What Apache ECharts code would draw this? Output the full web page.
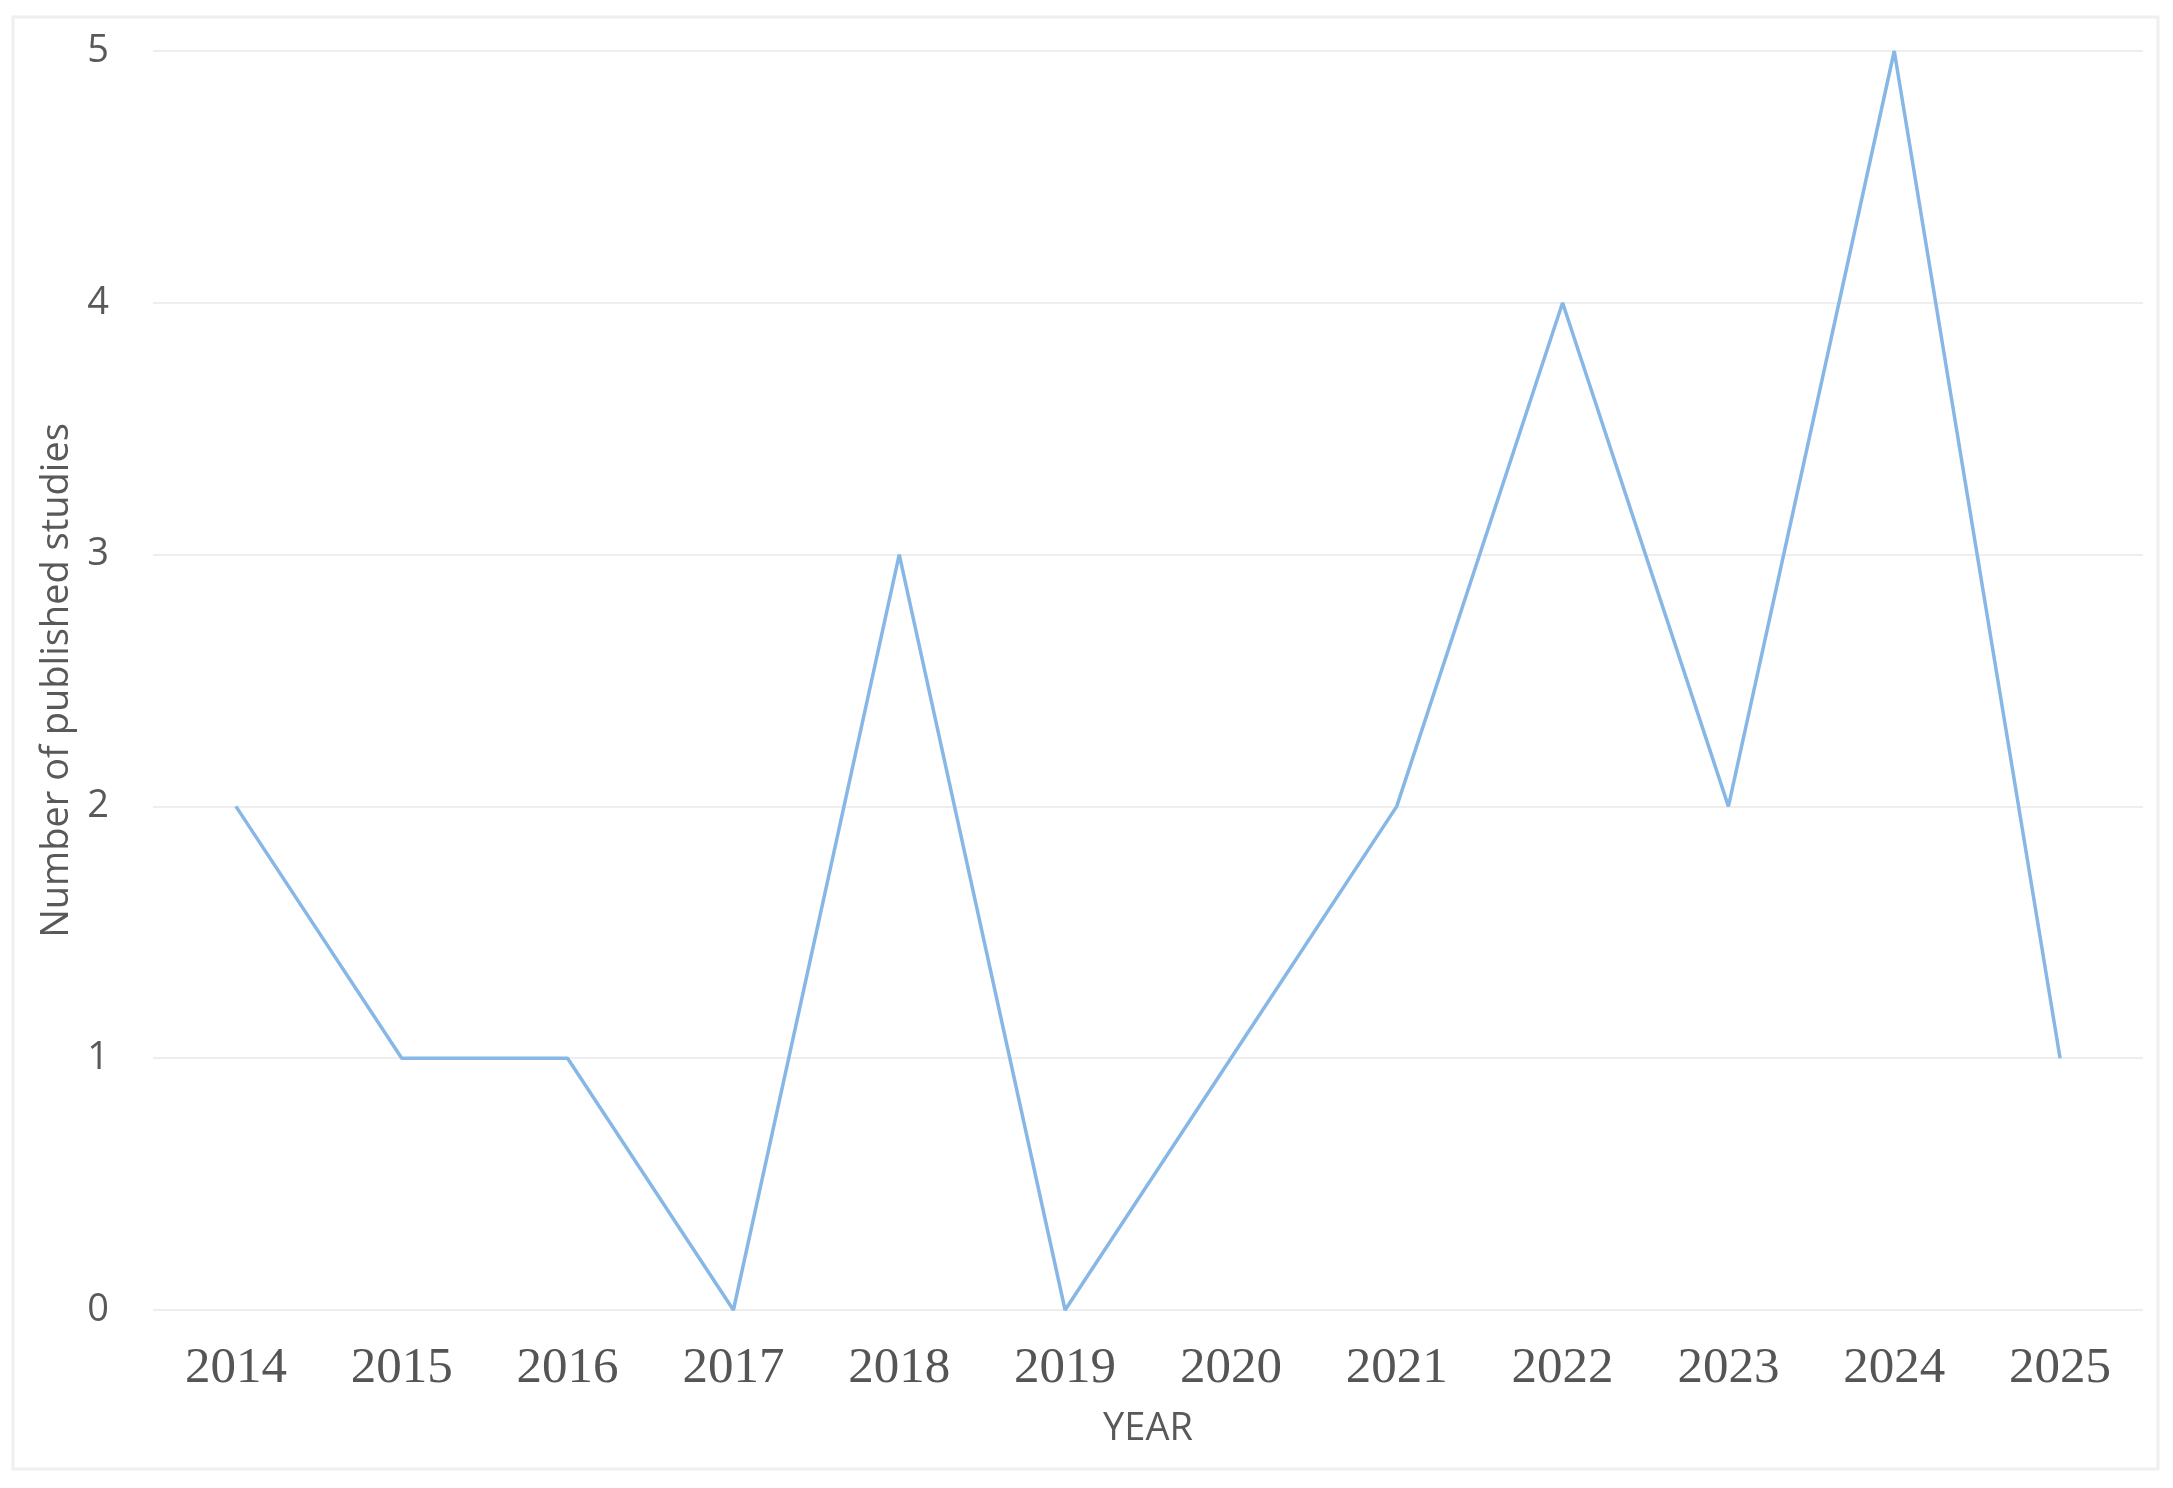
<!DOCTYPE html>
<html>
<head>
<meta charset="utf-8">
<script src="https://cdn.jsdelivr.net/npm/echarts@6/dist/echarts.min.js"></script>
<style>
  html, body { margin: 0; padding: 0; background: #ffffff; }
  #chart { width: 2173px; height: 1488px; }
</style>
</head>
<body>
<div id="chart"></div>
<script>
const years = ['2014','2015','2016','2017','2018','2019','2020','2021','2022','2023','2024','2025'];
const studies = [2, 1, 1, 0, 3, 0, 1, 2, 4, 2, 5, 1];
const yTicks = [0, 1, 2, 3, 4, 5];
const xAxisTitle = 'YEAR';
const yAxisTitle = 'Number of published studies';

const chart = echarts.init(document.getElementById('chart'), null, { renderer: 'canvas' });
chart.setOption({
  backgroundColor: '#ffffff',
  animation: false,
  graphic: [{
    type: 'rect',
    shape: { x: 13, y: 17, width: 2145, height: 1452 },
    style: { fill: 'none', stroke: '#efefef', lineWidth: 3 },
    silent: true
  }],
  grid: { left: 153, right: 30, top: 51, bottom: 178, containLabel: false },
  xAxis: {
    type: 'category',
    data: years,
    boundaryGap: true,
    name: xAxisTitle,
    nameLocation: 'middle',
    nameGap: 100,
    nameTextStyle: { fontFamily: 'Open Sans', fontSize: 38, color: '#595959' },
    axisLine: { show: false },
    axisTick: { show: false },
    axisLabel: { fontFamily: 'Liberation Serif', fontSize: 51, color: '#555555', margin: 33 },
    splitLine: { show: false }
  },
  yAxis: {
    type: 'value',
    min: yTicks[0],
    max: yTicks[yTicks.length - 1],
    interval: 1,
    name: yAxisTitle,
    nameLocation: 'middle',
    nameGap: 77,
    nameTextStyle: { fontFamily: 'Open Sans', fontSize: 38, color: '#595959' },
    axisLine: { show: false },
    axisTick: { show: false },
    axisLabel: { fontFamily: 'Open Sans', fontSize: 38, color: '#595959', margin: 44 },
    splitLine: { show: true, lineStyle: { color: '#eeeeee', width: 2 } }
  },
  series: [{
    type: 'line',
    data: studies,
    symbol: 'none',
    lineStyle: { color: '#86b7e6', width: 3.5 },
    itemStyle: { color: '#86b7e6' }
  }]
});
</script>
</body>
</html>
